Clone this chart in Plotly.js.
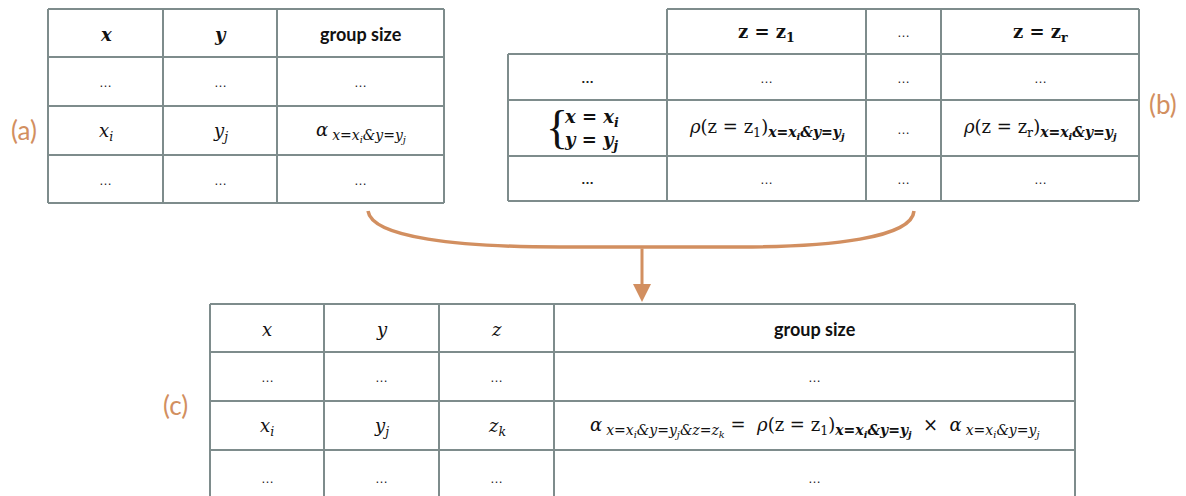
<!DOCTYPE html>
<html>
<head>
<meta charset="utf-8">
<script src="https://cdn.plot.ly/plotly-3.0.1.min.js"></script>
<style>
  html, body { margin: 0; padding: 0; background: #fff; }
  #plot { width: 1186px; height: 496px; }
</style>
</head>
<body>
<div id="plot"></div>
<script>
// cell contents
const dots = "…";
const subXY = "x=x<sub>i</sub>&amp;y=y<sub>j</sub>";
const subXYZ = "x=x<sub>i</sub>&amp;y=y<sub>j</sub>&amp;z=z<sub>k</sub>";
const big = (s) => '<span style="font-size:14px">' + s + "</span>";

const tableAHeader = ["<b><i>x</i></b>", "<b><i>y</i></b>", "group size"];
const tableARows = [
  [dots, dots, dots],
  ["<i>x<sub>i</sub></i>", "<i>y<sub>j</sub></i>", "<i>α</i><sub> <i>" + big(subXY) + "</i></sub>"],
  [dots, dots, dots],
];

const tableBHeader = ["", "<b>z = z<sub>1</sub></b>", dots, "<b>z = z<sub>r</sub></b>"];
const tableBRows = [
  ["<b>…</b>", dots, dots, dots],
  [
    "<b><i>x = x<sub>i</sub></i></b><br><b><i>y = y<sub>j</sub></i></b>",
    "<i>ρ</i>(z = z<sub>1</sub>)<sub><b><i>" + big(subXY) + "</i></b></sub>",
    dots,
    "<i>ρ</i>(z = z<sub>r</sub>)<sub><b><i>" + big(subXY) + "</i></b></sub>",
  ],
  ["<b>…</b>", dots, dots, dots],
];

const tableCHeader = ["<i>x</i>", "<i>y</i>", "<i>z</i>", "group size"];
const tableCRows = [
  [dots, dots, dots, dots],
  [
    "<i>x<sub>i</sub></i>",
    "<i>y<sub>j</sub></i>",
    "<i>z<sub>k</sub></i>",
    "<i>α</i><sub> <i>" + big(subXYZ) + "</i></sub>&nbsp;=&nbsp; <i>ρ</i>(z = z<sub>1</sub>)<sub><b><i>" +
      big(subXY) + "</i></b></sub> &nbsp;×&nbsp; <i>α</i><sub> <i>" + big(subXY) + "</i></sub>",
  ],
  [dots, dots, dots, dots],
];

const panelLabels = ["(a)", "(b)", "(c)"];

// geometry (pixel space)
const geomA = { cols: [48, 163, 277, 444], rows: [9, 57, 106, 155, 203] };
const geomB = { cols: [508, 667, 866, 941, 1139], rows: [9, 54, 100, 156, 201] };
const geomC = { cols: [210, 324, 439, 554, 1075], rows: [304, 352, 401, 450, 505] };
const labelPos = [[24, 130], [1163, 104], [175, 405]];

const gridColor = "#7e8c8c";
const accent = "#d28f60";
const mathFont = { family: "DejaVu Serif", size: 18, color: "#111" };
const wordFont = { family: "Lato", size: 18, color: "#111" };
const dotFont = { family: "Liberation Sans", size: 13, color: "#222" };

const shapes = [];
const annotations = [];

function hline(x0, x1, y) {
  shapes.push({ type: "line", xref: "x", yref: "y", x0, x1, y0: y, y1: y,
    line: { color: gridColor, width: 2 } });
}
function vline(x, y0, y1) {
  shapes.push({ type: "line", xref: "x", yref: "y", x0: x, x1: x, y0, y1,
    line: { color: gridColor, width: 2 } });
}

function cellFont(text) {
  if (text === dots || text === "<b>…</b>") return dotFont;
  if (text.indexOf("group size") >= 0) return wordFont;
  return mathFont;
}

function addText(text, x0, x1, y) {
  if (!text) return;
  const t = text.indexOf("group size") >= 0 ? "<b>" + text + "</b>" : text;
  const multi = text.indexOf("<br>") >= 0;
  annotations.push({ text: t, x: multi ? x0 + 54 : (x0 + x1) / 2, y, xref: "x", yref: "y",
    showarrow: false, font: cellFont(text), align: multi ? "left" : "center",
    xanchor: multi ? "left" : "center", yanchor: "middle" });
}

function drawTable(geom, header, rows, skipFirstHeader) {
  const { cols, rows: ys } = geom;
  const left = cols[0], right = cols[cols.length - 1];
  ys.forEach((y, i) => {
    if (i === 0 && skipFirstHeader) hline(cols[1], right, y);
    else hline(left, right, y);
  });
  cols.forEach((x, i) => {
    const top = (i === 0 && skipFirstHeader) ? ys[1] : ys[0];
    vline(x, top, ys[ys.length - 1]);
  });
  const allRows = [header].concat(rows);
  allRows.forEach((row, r) => {
    row.forEach((text, c) => {
      addText(text, cols[c], cols[c + 1], (ys[r] + ys[r + 1]) / 2 + 1);
    });
  });
}

drawTable(geomA, tableAHeader, tableARows, false);
drawTable(geomB, tableBHeader, tableBRows, true);
drawTable(geomC, tableCHeader, tableCRows, false);

// brace in the (b) row label
annotations.push({ text: "{", x: 557, y: 127, xref: "x", yref: "y", showarrow: false,
  font: { family: "Liberation Serif", size: 46, color: "#111" } });

panelLabels.forEach((lab, i) => {
  annotations.push({ text: lab, x: labelPos[i][0], y: labelPos[i][1], xref: "x", yref: "y",
    showarrow: false, font: { family: "Lato", size: 26, color: accent } });
});

// brace connector and arrow
shapes.push({ type: "path", xref: "x", yref: "y",
  path: "M 368 211 C 372 238, 460 247, 560 247 L 740 247 C 830 247, 912 238, 914 211",
  line: { color: accent, width: 3.5 } });
annotations.push({ text: "", x: 642, y: 302, ax: 642, ay: 247, xref: "x", yref: "y",
  axref: "x", ayref: "y", showarrow: true, arrowhead: 2, arrowsize: 1.2,
  arrowwidth: 3, arrowcolor: accent });

const layout = {
  width: 1186, height: 496,
  margin: { l: 0, r: 0, t: 0, b: 0 },
  paper_bgcolor: "#fff", plot_bgcolor: "#fff",
  xaxis: { range: [0, 1186], visible: false, fixedrange: true },
  yaxis: { range: [496, 0], visible: false, fixedrange: true },
  showlegend: false,
  shapes, annotations,
};

Plotly.newPlot("plot", [], layout, { displayModeBar: false, staticPlot: true });
</script>
</body>
</html>
